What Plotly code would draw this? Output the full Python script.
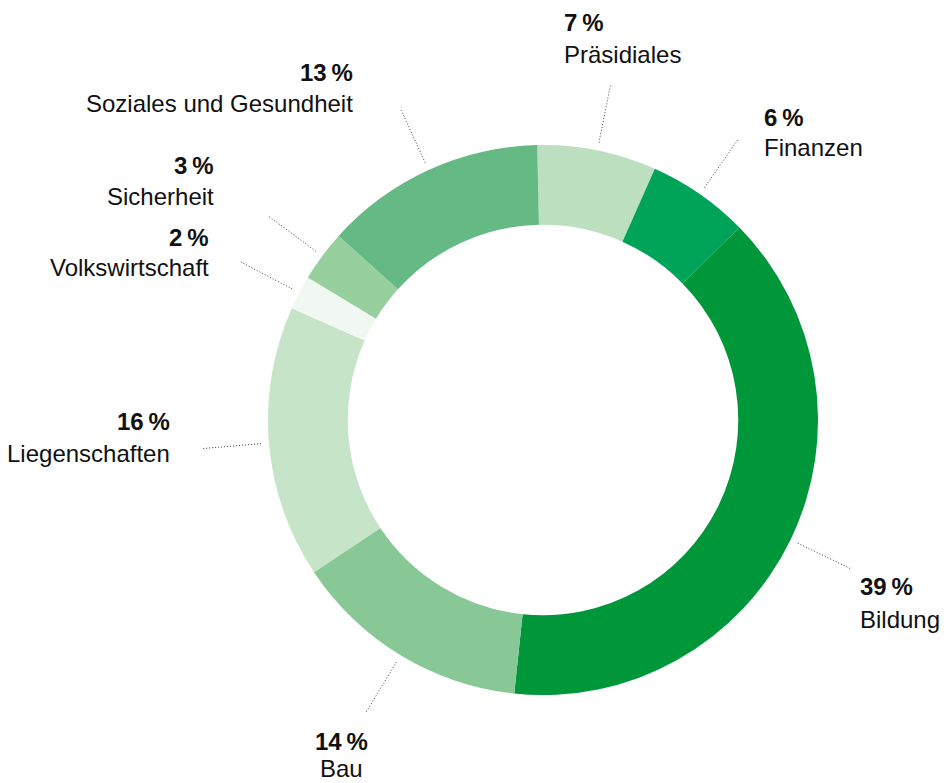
import math
import plotly.graph_objects as go

# ---- data ----
categories = ["Präsidiales", "Finanzen", "Bildung", "Bau", "Liegenschaften",
              "Volkswirtschaft", "Sicherheit", "Soziales und Gesundheit"]
shares = [7, 6, 39, 14, 16, 2, 3, 13]
percent_labels = ["7\u2009%", "6\u2009%", "39\u2009%", "14\u2009%", "16\u2009%",
                  "2\u2009%", "3\u2009%", "13\u2009%"]

# ---- styling / layout ----
colors = ["#bcdfc0", "#00a459", "#00963a", "#88c897", "#c6e4c8",
          "#f1f8f1", "#97cf9f", "#65b985"]

W, H = 944, 783
CX, CY, R = 543, 420, 275
HOLE = 0.71
ROT = -1.2
LEAD_R1, LEAD_R2 = 283, 342
FONT = "Liberation Sans, Arial, Helvetica, sans-serif"
FS = 24

# label placement in page pixels: (x, y of percent line, y of name line, anchor)
label_pos = [
    (562, 22, 55, "left"),
    (762, 117, 148, "left"),
    (858, 586, 619, "left"),
    (341, 741, 768, "center"),
    (172, 421, 453, "right"),
    (211, 237, 268, "right"),
    (216, 166, 196, "right"),
    (355, 72, 103, "right"),
]


def px(x):
    return x / W


def py(y):
    return 1 - y / H


fig = go.Figure(go.Pie(
    labels=categories,
    values=shares,
    sort=False,
    direction="clockwise",
    rotation=ROT,
    hole=HOLE,
    marker=dict(colors=colors, line=dict(width=0)),
    textinfo="none",
    hoverinfo="label+percent",
    showlegend=False,
    domain=dict(x=[px(CX - R), px(CX + R)], y=[py(CY + R), py(CY - R)]),
))

total = sum(shares)
shapes = []
annotations = []
cum = 0
for i, v in enumerate(shares):
    mid = (cum + v / 2) / total * 360 + ROT
    cum += v
    t = math.radians(mid)
    x1, y1 = CX + LEAD_R1 * math.sin(t), CY - LEAD_R1 * math.cos(t)
    x2, y2 = CX + LEAD_R2 * math.sin(t), CY - LEAD_R2 * math.cos(t)
    shapes.append(dict(type="line", xref="paper", yref="paper",
                       x0=px(x1), y0=py(y1), x1=px(x2), y1=py(y2),
                       line=dict(color="#444444", width=1, dash="1px,2px")))
    lx, ly1, ly2, anc = label_pos[i]
    annotations.append(dict(x=px(lx), y=py(ly1), xref="paper", yref="paper",
                            text="<b>" + percent_labels[i] + "</b>", showarrow=False,
                            xanchor=anc, yanchor="middle",
                            font=dict(family=FONT, size=FS, color="#111111")))
    annotations.append(dict(x=px(lx), y=py(ly2), xref="paper", yref="paper",
                            text=categories[i], showarrow=False,
                            xanchor=anc, yanchor="middle",
                            font=dict(family=FONT, size=FS, color="#111111")))

fig.update_layout(
    width=W, height=H,
    margin=dict(l=0, r=0, t=0, b=0),
    paper_bgcolor="white",
    plot_bgcolor="white",
    shapes=shapes,
    annotations=annotations,
)

fig.write_html(
    "out.html",
    config={"displayModeBar": False},
    post_script="document.body.style.margin='0';document.body.style.overflow='hidden';",
)
